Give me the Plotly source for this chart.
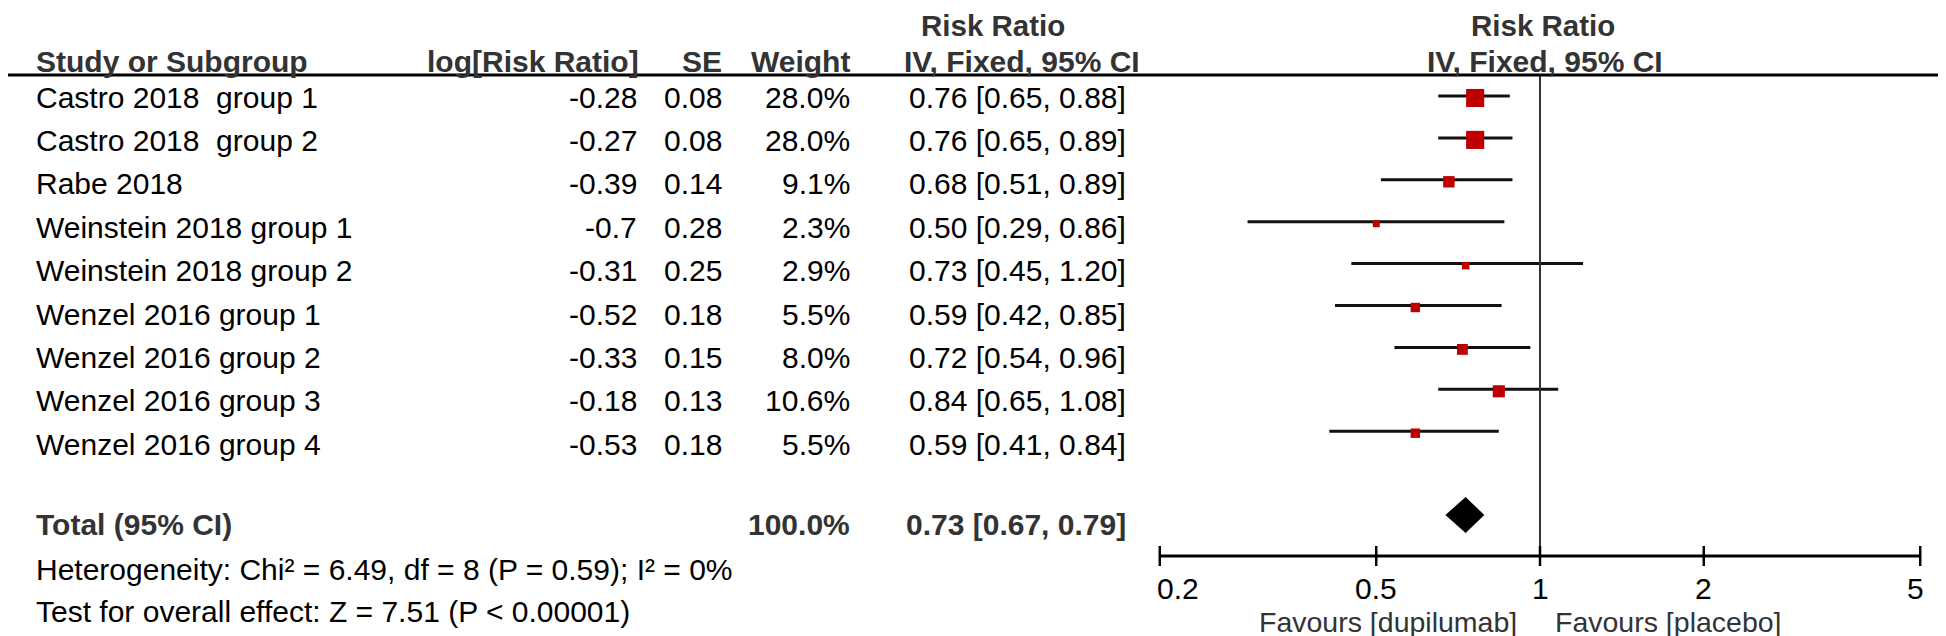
import math
import plotly.graph_objects as go

# ---------------- data ----------------
studies = ["Castro 2018  group 1", "Castro 2018  group 2", "Rabe 2018",
           "Weinstein 2018 group 1", "Weinstein 2018 group 2",
           "Wenzel 2016 group 1", "Wenzel 2016 group 2",
           "Wenzel 2016 group 3", "Wenzel 2016 group 4"]
log_rr = [-0.28, -0.27, -0.39, -0.7, -0.31, -0.52, -0.33, -0.18, -0.53]
se = [0.08, 0.08, 0.14, 0.28, 0.25, 0.18, 0.15, 0.13, 0.18]
weight = [28.0, 28.0, 9.1, 2.3, 2.9, 5.5, 8.0, 10.6, 5.5]
rr = [0.76, 0.76, 0.68, 0.50, 0.73, 0.59, 0.72, 0.84, 0.59]
ci_lo = [0.65, 0.65, 0.51, 0.29, 0.45, 0.42, 0.54, 0.65, 0.41]
ci_hi = [0.88, 0.89, 0.89, 0.86, 1.20, 0.85, 0.96, 1.08, 0.84]

total_label = "Total (95% CI)"
total_weight = 100.0
total_rr = 0.73
total_lo = 0.67
total_hi = 0.79
heterogeneity = "Heterogeneity: Chi² = 6.49, df = 8 (P = 0.59); I² = 0%"
overall = "Test for overall effect: Z = 7.51 (P < 0.00001)"

tick_vals = [0.2, 0.5, 1, 2, 5]
tick_text = ["0.2", "0.5", "1", "2", "5"]
favours_left = "Favours [dupilumab]"
favours_right = "Favours [placebo]"

# ---------------- layout constants (pixels) ----------------
W, H = 1946, 636
TEXT_ROW0, TEXT_PITCH = 89, 43.4      # table text rows
PLOT_ROW0, PLOT_PITCH = 88, 41.9      # forest rows
text_y = [TEXT_ROW0 + TEXT_PITCH * i for i in range(len(studies))]
plot_y = [PLOT_ROW0 + PLOT_PITCH * i for i in range(len(studies))]
Y_HEAD1, Y_HEAD2, Y_LINE = 17, 53, 67
Y_TOTAL_TXT, Y_DIAMOND = 516, 507
Y_HET, Y_TEST = 561, 603
Y_AXIS, Y_TICKLAB, Y_FAV = 548, 580, 614

X_STUDY = 27
X_LOG = 630
X_SE = 715
X_W = 843
X_CI = 1119

FONT = "Liberation Sans, Arial, sans-serif"
FS = 30
BLACK = "#000000"
GREY = "#333333"
RED = "#c00000"

fig = go.Figure()

# CI lines
for i in range(len(studies)):
    fig.add_trace(go.Scatter(x=[ci_lo[i], ci_hi[i]], y=[plot_y[i], plot_y[i]],
                             xaxis="x2", yaxis="y", mode="lines",
                             line=dict(color="#111111", width=3),
                             hoverinfo="skip"))

# squares (area grows with weight)
sizes = [2.5 + 2.95 * math.sqrt(w) for w in weight]
fig.add_trace(go.Scatter(x=rr, y=[y + 2 for y in plot_y], xaxis="x2", yaxis="y",
                         mode="markers",
                         marker=dict(symbol="square", color=RED, size=sizes,
                                     opacity=1, line=dict(width=0))))

# diamond
half_h = 18
fig.add_trace(go.Scatter(x=[total_lo, total_rr, total_hi, total_rr, total_lo],
                         y=[Y_DIAMOND, Y_DIAMOND - half_h, Y_DIAMOND,
                            Y_DIAMOND + half_h, Y_DIAMOND],
                         xaxis="x2", yaxis="y", mode="lines", fill="toself",
                         fillcolor=BLACK, line=dict(color=BLACK, width=0)))

# null line
fig.add_trace(go.Scatter(x=[1, 1], y=[Y_LINE, Y_AXIS], xaxis="x2", yaxis="y",
                         mode="lines", line=dict(color=GREY, width=2)))

# axis line
fig.add_trace(go.Scatter(x=[tick_vals[0], tick_vals[-1]], y=[Y_AXIS, Y_AXIS],
                         xaxis="x2", yaxis="y", mode="lines",
                         line=dict(color=BLACK, width=3)))
# ticks
for t in tick_vals:
    fig.add_trace(go.Scatter(x=[t, t], y=[Y_AXIS - 10, Y_AXIS + 10],
                             xaxis="x2", yaxis="y", mode="lines",
                             line=dict(color=BLACK, width=2.5)))

# header line
fig.add_shape(type="line", xref="paper", yref="y", x0=0, x1=1, y0=Y_LINE, y1=Y_LINE,
              line=dict(color=BLACK, width=3))

ann = []


def txt(x, y, s, anchor="left", bold=False, color=BLACK, xref="x", xshift=0, size=FS):
    # annotations on a log axis take log10 coordinates
    xx = math.log10(x) if xref == "x2" else x
    ann.append(dict(x=xx, y=y, xref=xref, yref="y", text=s, showarrow=False,
                    xanchor=anchor, yanchor="middle", xshift=xshift, borderpad=0,
                    font=dict(family=FONT, size=size, color=color,
                              weight="bold" if bold else "normal")))


# headers
txt(985, Y_HEAD1, "Risk Ratio", "center", True, GREY, size=29.5)
txt(1, Y_HEAD1, "Risk Ratio", "center", True, GREY, xref="x2", xshift=3, size=29.5)
txt(X_STUDY, Y_HEAD2, "Study or Subgroup", "left", True, GREY)
txt(632, Y_HEAD2, "log[Risk Ratio]", "right", True, GREY)
txt(X_SE, Y_HEAD2, "SE", "right", True, GREY)
txt(X_W, Y_HEAD2, "Weight", "right", True, GREY)
txt(1133, Y_HEAD2, "IV, Fixed, 95% CI", "right", True, GREY)
txt(1, Y_HEAD2, "IV, Fixed, 95% CI", "center", True, GREY, xref="x2", xshift=5)

# rows
for i, name in enumerate(studies):
    y = text_y[i]
    txt(X_STUDY, y, name)
    txt(X_LOG, y, f"{log_rr[i]:g}", "right")
    txt(X_SE, y, f"{se[i]:.2f}", "right")
    txt(X_W, y, f"{weight[i]:.1f}%", "right")
    txt(X_CI, y, f"{rr[i]:.2f} [{ci_lo[i]:.2f}, {ci_hi[i]:.2f}]", "right")

# total
txt(X_STUDY, Y_TOTAL_TXT, total_label, "left", True, GREY)
txt(X_W, Y_TOTAL_TXT, f"{total_weight:.1f}%", "right", True, GREY)
txt(X_CI, Y_TOTAL_TXT, f"{total_rr:.2f} [{total_lo:.2f}, {total_hi:.2f}]", "right", True, GREY)
txt(X_STUDY, Y_HET, heterogeneity)
txt(X_STUDY, Y_TEST, overall)

# tick labels
for i, (t, s) in enumerate(zip(tick_vals, tick_text)):
    if i == 0:
        txt(t, Y_TICKLAB, s, "left", xref="x2", xshift=-4)
    elif i == len(tick_vals) - 1:
        txt(t, Y_TICKLAB, s, "right", xref="x2", xshift=5)
    else:
        txt(t, Y_TICKLAB, s, "center", xref="x2")

txt(1, Y_FAV, favours_left, "right", False, GREY, xref="x2", xshift=-22, size=28.5)
txt(1, Y_FAV, favours_right, "left", False, GREY, xref="x2", xshift=14, size=28.5)

D = 544.0
X_ONE = 1532.0
fig.update_layout(
    width=W, height=H, margin=dict(l=0, r=0, t=0, b=0),
    paper_bgcolor="white", plot_bgcolor="white", showlegend=False,
    annotations=ann,
    xaxis=dict(range=[0, W], visible=False, domain=[0, 1], fixedrange=True),
    xaxis2=dict(type="log", range=[-X_ONE / D, (W - X_ONE) / D], overlaying="x",
                anchor="y", visible=False, domain=[0, 1]),
    yaxis=dict(range=[H, 0], visible=False, domain=[0, 1]),
)

fig.write_html("out.html")
